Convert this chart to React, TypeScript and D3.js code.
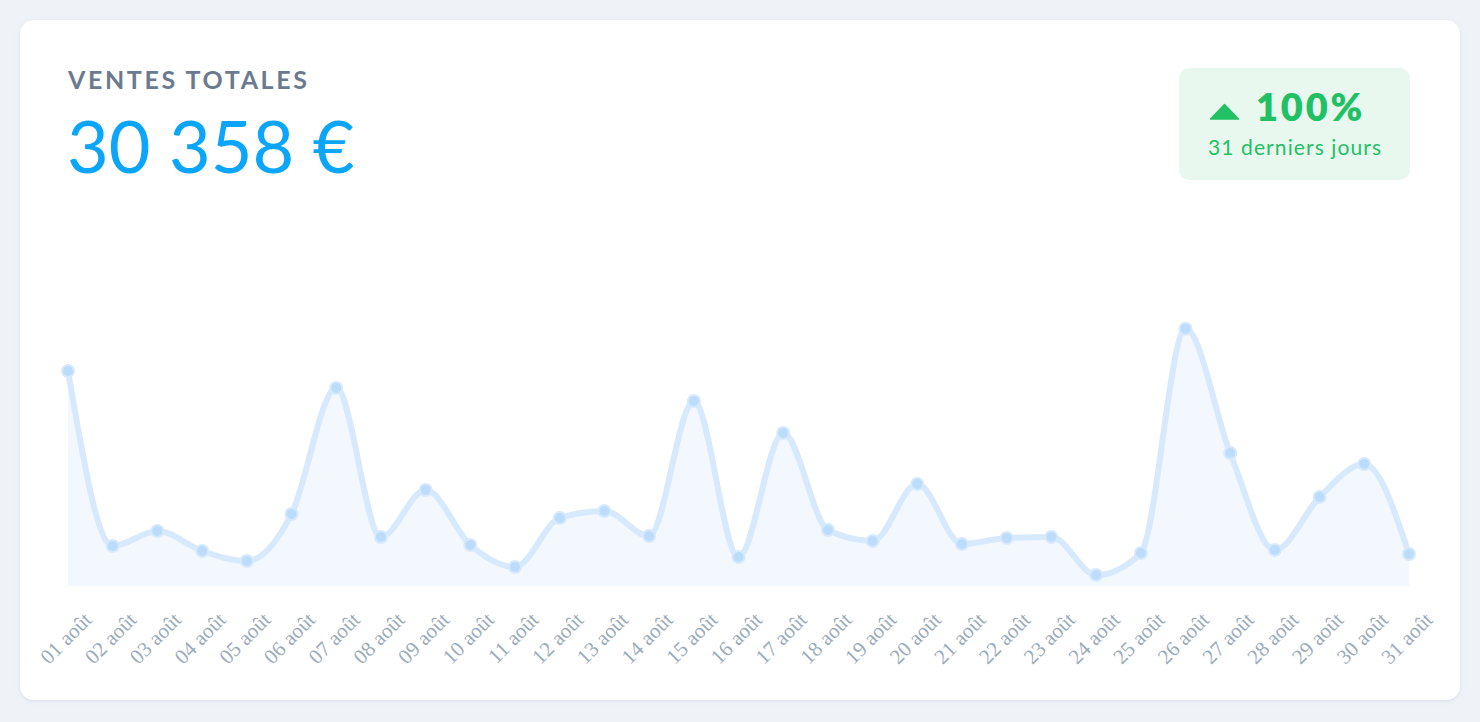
import React from "react";
import * as d3 from "d3";

const days = ["01","02","03","04","05","06","07","08","09","10","11","12","13","14","15","16","17","18","19","20","21","22","23","24","25","26","27","28","29","30","31"];
const labels = days.map((d) => `${d} août`);
const sales = [2653,494,679,432,309,888,2443,605,1185,506,234,839,926,617,2283,358,1888,691,555,1259,518,592,605,136,407,3174,1641,444,1098,1505,395];
const titleText = "VENTES TOTALES";
const totalText = "30 358 €";
const changeText = "100%";
const periodText = "31 derniers jours";

const W = 1480;
const H = 722;

export default function App() {
  const x = d3.scalePoint<string>().domain(labels).range([68, 1409]);
  const y = d3.scaleLinear().domain([0, 4000]).range([586, 586 - 4000 / 12.34]);
  const pts = sales.map((v, i) => ({ l: labels[i], v }));
  const line = d3.line<{ l: string; v: number }>().x((d) => x(d.l)!).y((d) => y(d.v)).curve(d3.curveMonotoneX);
  const area = d3.area<{ l: string; v: number }>().x((d) => x(d.l)!).y0(y(0)).y1((d) => y(d.v)).curve(d3.curveMonotoneX);
  const sans = "Lato, 'Open Sans', sans-serif";
  return (
    <svg width={W} height={H} style={{ position: "absolute", left: 0, top: 0, display: "block" }}>
      <defs>
        <filter id="sh" x="-5%" y="-5%" width="110%" height="110%">
          <feDropShadow dx="0" dy="1" stdDeviation="2" floodColor="#94a3b8" floodOpacity="0.25" />
        </filter>
      </defs>
      <rect x={0} y={0} width={W} height={H} fill="#eff3f8" />
      <rect x={20} y={20} width={1440} height={680} rx={14} fill="#ffffff" filter="url(#sh)" />
      <text x={68} y={89} fontFamily={sans} fontSize={25} fontWeight={700} fill="#6b7a90" letterSpacing={2.6}>{titleText}</text>
      <text x={67} y={173} fontFamily={sans} fontSize={72} fontWeight={400} fill="#0ba5fb">{totalText}</text>
      <rect x={1179} y={68} width={231} height={112} rx={10} fill="#e9f8ef" />
      <path d="M1210.5,119 L1224.5,104.5 L1238.5,119 Z" fill="#22c065" stroke="#22c065" strokeWidth={1.5} strokeLinejoin="round" />
      <text x={1256} y={121} fontFamily={sans} fontSize={38} fontWeight={800} fill="#22c065" letterSpacing={2.8}>{changeText}</text>
      <text x={1208} y={155} fontFamily={sans} fontSize={21} fontWeight={400} fill="#22c065" letterSpacing={1.1}>{periodText}</text>
      <path d={area(pts)!} fill="#f3f8fe" />
      <path d={line(pts)!} fill="none" stroke="#d3e7fd" strokeWidth={6} strokeOpacity={0.9} />
      {pts.map((d) => (
        <circle key={d.l} cx={x(d.l)} cy={y(d.v)} r={6} fill="#bcdcfb" stroke="#d6e9fd" strokeWidth={2} />
      ))}
      {labels.map((l) => (
        <text key={l} transform={`translate(${x(l)! + 25},${621}) rotate(-45)`} textAnchor="end" fontFamily="'Liberation Serif', serif" fontSize={21} fill="#9aabb9">{l}</text>
      ))}
    </svg>
  );
}
